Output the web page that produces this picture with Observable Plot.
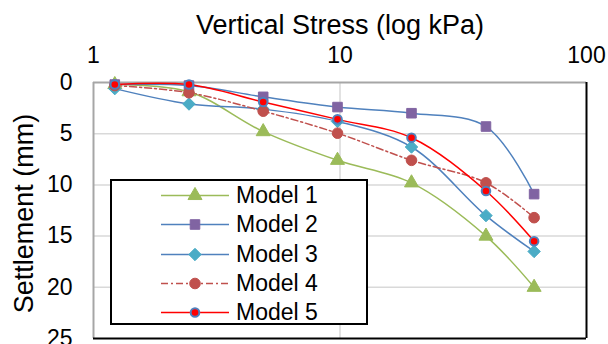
<!DOCTYPE html>
<html>
<head>
<meta charset="utf-8">
<script src="https://cdn.jsdelivr.net/npm/d3@7"></script>
<script src="https://cdn.jsdelivr.net/npm/@observablehq/plot@0.6"></script>
<style>
  html, body { margin: 0; padding: 0; background: #fff; }
  #wrap { position: relative; width: 608px; height: 344px; overflow: hidden; font-family: "Liberation Sans", Arial, sans-serif; }
  #legend { position: absolute; left: 110px; top: 179px; width: 258px; height: 146px; box-sizing: border-box;
            border: 2px solid #000; background: #fff; }
  .row { position: absolute; left: 0; height: 29px; display: flex; align-items: center; }
  .row svg { display: block; }
  .row span { font-size: 23px; color: #000; margin-left: 6px; line-height: 29px; }
</style>
</head>
<body>
<div id="wrap"></div>
<script>
// ---- data ----
const stress = [1.22, 2.44, 4.88, 9.77, 19.5, 39.1, 61.3];   // kPa
const modelNames = ["Model 1", "Model 2", "Model 3", "Model 4", "Model 5"];
const model1 = [0.2, 0.9, 4.8, 7.6, 9.8, 15.0, 20.0];
const model2 = [0.2, 0.3, 1.4, 2.4, 3.0, 4.3, 10.9];
const model3 = [0.6, 2.1, 2.6, 3.8, 6.3, 13.0, 16.5];
const model4 = [0.3, 1.0, 2.8, 4.95, 7.6, 9.8, 13.2];
const model5 = [0.2, 0.2, 1.9, 3.6, 5.4, 10.6, 15.5];
const xTicks = [1, 10, 100];
const yTicks = [0, 5, 10, 15, 20, 25];
const xTitle = "Vertical Stress (log kPa)";
const yTitle = "Settlement (mm)";

const series = [model1, model2, model3, model4, model5];
const diamond = d3.symbolDiamond2 || d3.symbolDiamond;
const styles = [
  {line: "#9BBB59", dash: null, symbol: d3.symbolTriangle, r: 5.2, fill: "#9BBB59", stroke: "#9BBB59", sw: 1},
  {line: "#4F81BD", dash: null, symbol: d3.symbolSquare, r: 5.4, fill: "#8064A2", stroke: "#8064A2", sw: 1},
  {line: "#4F81BD", dash: null, symbol: diamond, r: 5.6, fill: "#4BACC6", stroke: "#4BACC6", sw: 1},
  {line: "#C0504D", dash: "7,3,2,3", symbol: d3.symbolCircle, r: 5.3, fill: "#C0504D", stroke: "#C0504D", sw: 1},
  {line: "#FF0000", dash: null, symbol: d3.symbolCircle, r: 4.3, fill: "#FF0000", stroke: "#4F81BD", sw: 2}
];

const table = modelNames.map((name, i) => stress.map((x, j) => ({model: name, x, y: series[i][j]})));

const marks = [
  Plot.gridY(yTicks.slice(1, -1), {stroke: "#D9D9D9", strokeOpacity: 1, strokeWidth: 1.5}),
  Plot.gridX([10], {stroke: "#D9D9D9", strokeOpacity: 1, strokeWidth: 1.5}),
  Plot.ruleY([0], {stroke: "#A6A6A6", strokeWidth: 2}),
  Plot.ruleX([1], {stroke: "#A6A6A6", strokeWidth: 2}),
  Plot.ruleX([100], {stroke: "#000", strokeWidth: 2}),
  Plot.ruleY([25], {stroke: "#000", strokeWidth: 2}),
  Plot.axisX({anchor: "top", ticks: xTicks, tickFormat: d => String(d), tickSize: 0, tickPadding: 20, fontSize: 23, label: null}),
  Plot.axisY({anchor: "left", ticks: yTicks, tickFormat: d => String(d), tickSize: 0, tickPadding: 21, fontSize: 23, label: null}),
  Plot.text([xTitle], {frameAnchor: "top", lineAnchor: "middle", textAnchor: "middle", text: d => d, dy: -57, fontSize: 27}),
  Plot.text([yTitle], {frameAnchor: "left", lineAnchor: "middle", textAnchor: "middle", text: d => d, rotate: -90, dx: -69, dy: 3, fontSize: 27})
];
table.forEach((data, i) => {
  const s = styles[i];
  marks.push(Plot.line(data, {x: "x", y: "y", stroke: s.line, strokeWidth: 1.5, curve: "catmull-rom", strokeDasharray: s.dash}));
});
table.forEach((data, i) => {
  const s = styles[i];
  marks.push(Plot.dot(data, {x: "x", y: "y", symbol: s.symbol, r: s.r, fill: s.fill, stroke: s.stroke, strokeWidth: s.sw}));
});

const chart = Plot.plot({
  width: 608,
  height: 344,
  marginLeft: 93,
  marginRight: 22,
  marginTop: 82,
  marginBottom: 6,
  style: {fontFamily: "'Liberation Sans', Arial, sans-serif", fontSize: "23px", color: "#000", background: "#fff"},
  x: {type: "log", domain: [1, 100]},
  y: {domain: [0, 25], reverse: true},
  marks
});
const wrap = document.getElementById("wrap");
wrap.appendChild(chart);

// ---- legend ----
const legend = document.createElement("div");
legend.id = "legend";
wrap.appendChild(legend);
const rowTops = [0, 29.3, 58.6, 87.9, 117.2];
modelNames.forEach((name, i) => {
  const s = styles[i];
  const row = document.createElement("div");
  row.className = "row";
  row.style.top = (rowTops[i]) + "px";
  row.style.left = "48px";
  const svg = d3.create("svg").attr("width", 70).attr("height", 29);
  svg.append("line").attr("x1", 1).attr("x2", 69).attr("y1", 14.5).attr("y2", 14.5)
    .attr("stroke", s.line).attr("stroke-width", 1.5).attr("stroke-dasharray", s.dash);
  svg.append("path").attr("d", d3.symbol(s.symbol, Math.PI * s.r * s.r)())
    .attr("transform", "translate(35,14.5)").attr("fill", s.fill).attr("stroke", s.stroke).attr("stroke-width", s.sw);
  row.appendChild(svg.node());
  const label = document.createElement("span");
  label.textContent = name;
  row.appendChild(label);
  legend.appendChild(row);
});
</script>
</body>
</html>
